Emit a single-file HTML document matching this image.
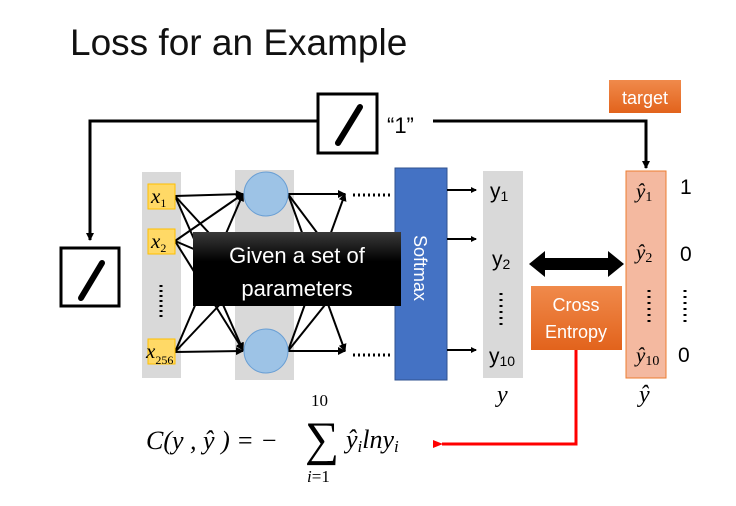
<!DOCTYPE html>
<html><head><meta charset="utf-8"><style>
body{margin:0;background:#fff;}
svg{display:block;font-family:"Liberation Sans",sans-serif;}
.s{font-family:"Liberation Serif",serif;font-style:italic;}
</style></head><body>
<svg width="736" height="506" viewBox="0 0 736 506">
<defs>
<marker id="a" markerWidth="8" markerHeight="8" refX="7" refY="4" orient="auto" markerUnits="userSpaceOnUse"><path d="M0,0 L8,4 L0,8 z" fill="#000"/></marker>
<marker id="s" markerWidth="6" markerHeight="6" refX="5" refY="3" orient="auto" markerUnits="userSpaceOnUse"><path d="M0,0 L6,3 L0,6 z" fill="#000"/></marker>
<marker id="ar" markerWidth="10" markerHeight="8" refX="1" refY="4" orient="auto" markerUnits="userSpaceOnUse"><path d="M10,0 L0,4 L10,8 z" fill="#f00"/></marker>
<linearGradient id="og" x1="0" y1="0" x2="0" y2="1"><stop offset="0" stop-color="#f08a4b"/><stop offset="1" stop-color="#e2631c"/></linearGradient>
<linearGradient id="bg" x1="0" y1="0" x2="0" y2="1"><stop offset="0" stop-color="#3a3a3a"/><stop offset="0.4" stop-color="#000"/><stop offset="1" stop-color="#000"/></linearGradient>
</defs>
<text x="70" y="55" font-size="37" fill="#111">Loss for an Example</text>

<polyline points="317,121 90,121 90,240" fill="none" stroke="#000" stroke-width="3" marker-end="url(#a)"/>
<polyline points="433,121 646,121 646,168" fill="none" stroke="#000" stroke-width="3" marker-end="url(#a)"/>
<rect x="318" y="94" width="59" height="59" fill="#fff" stroke="#000" stroke-width="3"/>
<line x1="338" y1="143" x2="360" y2="107" stroke="#000" stroke-width="6" stroke-linecap="round"/>
<text x="387" y="133" font-size="22">“1”</text>
<rect x="609" y="80" width="72" height="33" fill="url(#og)"/>
<text x="645" y="104" font-size="18" fill="#fff" text-anchor="middle">target</text>
<rect x="61" y="248" width="58" height="58" fill="#fff" stroke="#000" stroke-width="3"/>
<line x1="81" y1="298" x2="102" y2="263" stroke="#000" stroke-width="6" stroke-linecap="round"/>

<rect x="142" y="172" width="39" height="206" fill="#d9d9d9"/>
<rect x="235" y="170" width="59" height="210" fill="#d9d9d9"/>
<rect x="395" y="168" width="52" height="212" fill="#4472c4" stroke="#2f528f"/>
<text transform="translate(414,235) rotate(90)" font-size="18" fill="#fff">Softmax</text>

<g stroke="#000" stroke-width="2" fill="none" marker-end="url(#a)">
<line x1="175" y1="196" x2="243" y2="194"/><line x1="175" y1="196" x2="243" y2="350"/><line x1="175" y1="196" x2="243" y2="270"/>
<line x1="175" y1="241" x2="243" y2="194"/><line x1="175" y1="241" x2="243" y2="350"/><line x1="175" y1="241" x2="243" y2="270"/>
<line x1="175" y1="352" x2="243" y2="194"/><line x1="175" y1="352" x2="243" y2="351"/><line x1="175" y1="352" x2="243" y2="280"/>
<line x1="288" y1="194" x2="345" y2="194"/><line x1="288" y1="194" x2="345" y2="351"/><line x1="288" y1="194" x2="345" y2="270"/>
<line x1="288" y1="351" x2="345" y2="194"/><line x1="288" y1="351" x2="345" y2="351"/><line x1="288" y1="351" x2="345" y2="280"/>
</g>
<g stroke="#000" stroke-width="2" fill="none" marker-end="url(#s)">
<line x1="447" y1="190" x2="476" y2="190"/><line x1="447" y1="239" x2="476" y2="239"/><line x1="447" y1="350" x2="476" y2="350"/>
</g>
<circle cx="266" cy="194" r="22" fill="#9dc3e6" stroke="#6a9fd4"/>
<circle cx="266" cy="351" r="22" fill="#9dc3e6" stroke="#6a9fd4"/>
<g stroke="#000" stroke-width="3" stroke-dasharray="2,3"><line x1="353" y1="195" x2="390" y2="195"/><line x1="353" y1="355" x2="390" y2="355"/><line x1="161" y1="285" x2="161" y2="320"/></g>

<g fill="#ffd966" stroke="#ffc000"><rect x="148" y="184" width="27" height="25"/><rect x="148" y="229" width="27" height="25"/><rect x="148" y="339" width="27" height="25"/></g>
<g class="s" font-size="21"><text x="151" y="203">x<tspan font-size="12" font-style="normal" dy="4">1</tspan></text><text x="151" y="248">x<tspan font-size="12" font-style="normal" dy="4">2</tspan></text><text x="146" y="358">x<tspan font-size="12" font-style="normal" dy="6">256</tspan></text></g>

<rect x="193" y="232" width="208" height="74" fill="url(#bg)"/>
<text x="297" y="263" font-size="22" fill="#fff" text-anchor="middle">Given a set of</text>
<text x="297" y="296" font-size="22" fill="#fff" text-anchor="middle">parameters</text>

<rect x="483" y="171" width="40" height="207" fill="#d9d9d9"/>
<g font-size="21"><text x="490" y="198">y<tspan font-size="14" dy="3">1</tspan></text><text x="492" y="266">y<tspan font-size="14" dy="3">2</tspan></text><text x="489" y="363">y<tspan font-size="14" dy="3">10</tspan></text></g>
<line x1="501" y1="293" x2="501" y2="326" stroke="#000" stroke-width="3" stroke-dasharray="2,4"/>
<text x="497" y="402" class="s" font-size="24">y</text>

<rect x="626" y="171" width="40" height="207" fill="#f4b9a0" stroke="#ed7d31"/>
<g class="s" font-size="21"><text x="636" y="198">ŷ<tspan font-style="normal" font-size="14" dy="3">1</tspan></text><text x="636" y="259">ŷ<tspan font-style="normal" font-size="14" dy="3">2</tspan></text><text x="636" y="362">ŷ<tspan font-style="normal" font-size="14" dy="3">10</tspan></text></g>
<line x1="649" y1="290" x2="649" y2="322" stroke="#000" stroke-width="3" stroke-dasharray="2,4"/>
<text x="639" y="402" class="s" font-size="24">ŷ</text>
<g font-size="21"><text x="680" y="194">1</text><text x="680" y="261">0</text><text x="678" y="362">0</text></g>
<line x1="685" y1="290" x2="685" y2="322" stroke="#000" stroke-width="3" stroke-dasharray="2,4"/>

<path d="M529,264 L545,251 L545,258 L608,258 L608,251 L624,264 L608,277 L608,270 L545,270 L545,277 z" fill="#000"/>
<rect x="531" y="286" width="91" height="64" fill="url(#og)"/>
<text x="576" y="311" font-size="18" fill="#fff" text-anchor="middle">Cross</text>
<text x="576" y="338" font-size="18" fill="#fff" text-anchor="middle">Entropy</text>
<polyline points="576,350 576,444 442,444" fill="none" stroke="#f00" stroke-width="3" marker-end="url(#ar)"/>

<g class="s" font-size="26">
<text x="146" y="449">C(y , ŷ ) = −</text>
<text x="305" y="455" font-style="normal" font-size="48">∑</text>
<text x="311" y="406" font-style="normal" font-size="17">10</text>
<text x="307" y="482" font-size="17">i<tspan font-style="normal">=1</tspan></text>
<text x="346" y="448">ŷ<tspan font-size="17" dy="4">i</tspan><tspan dy="-4">lny</tspan><tspan font-size="17" dy="4">i</tspan></text>
</g>
</svg>
</body></html>
